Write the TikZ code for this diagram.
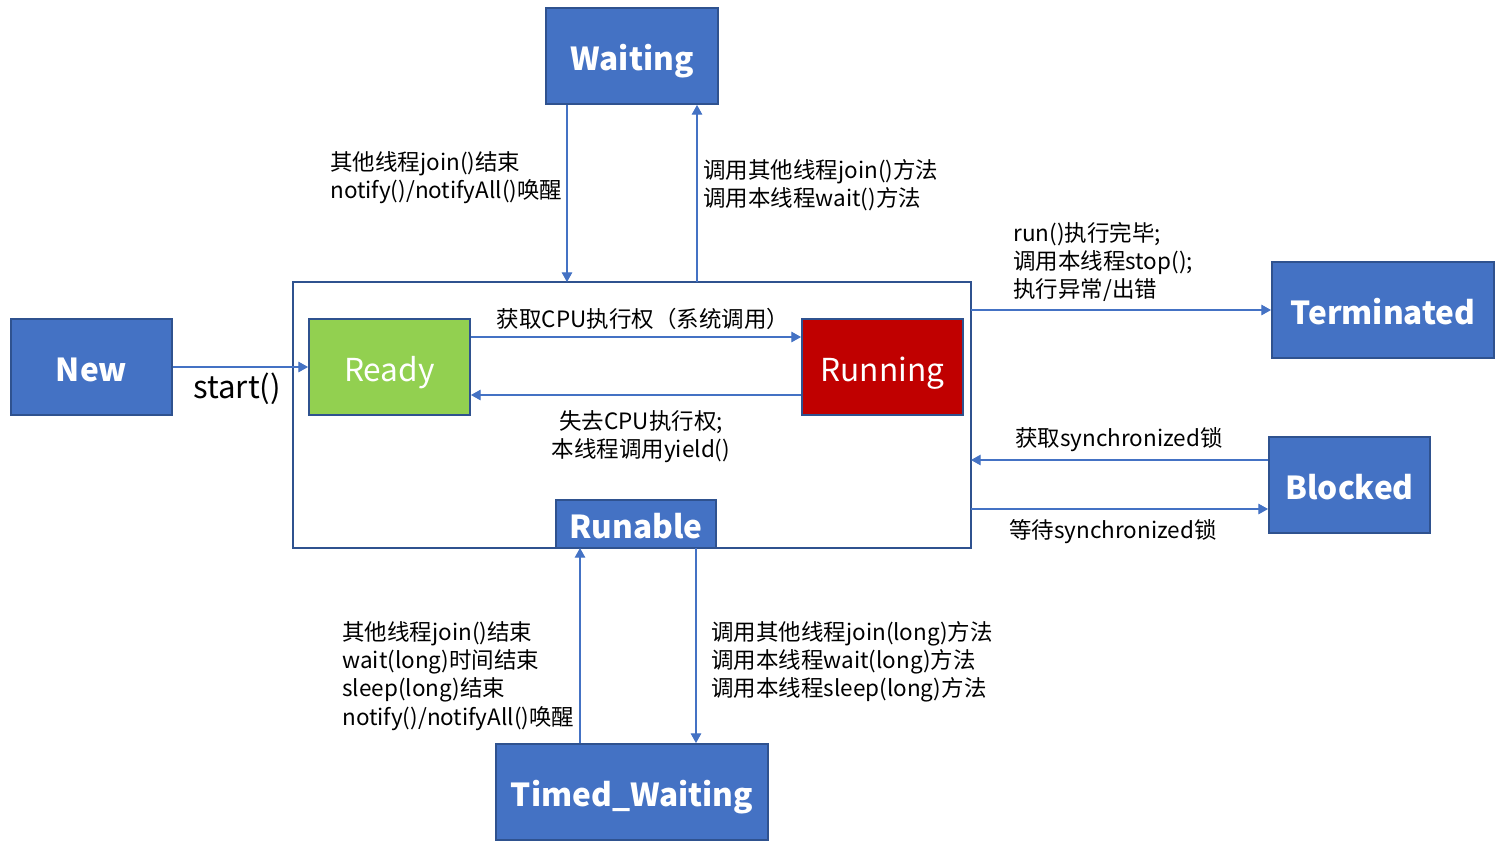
\documentclass[tikz,border=0pt]{standalone}
\usepackage{fontspec}
\setmainfont{Noto Sans CJK SC}
\usetikzlibrary{arrows.meta}
\definecolor{boxblue}{HTML}{4472C4}
\definecolor{edgeblue}{HTML}{2F528F}
\definecolor{readygreen}{HTML}{92D050}
\definecolor{runred}{HTML}{C00000}
\tikzset{
  px/.style={x=0.02cm,y=-0.02cm},
  state/.style={draw=edgeblue,line width=1.1pt,fill=boxblue,text=white,font=\fontsize{18}{20}\selectfont\bfseries,inner sep=0pt,text height=16.4pt,text depth=0pt},
  flow/.style={draw=boxblue,line width=0.6pt,-{Triangle[length=5.5pt,width=6pt]}},
  lbl/.style={font=\fontsize{12.8}{16}\selectfont,text=black,inner sep=0pt,align=left}
}
\begin{document}
\begin{tikzpicture}[px]
\useasboundingbox (0,0) rectangle (1502,850);
% outer runnable frame
\draw[draw=edgeblue,line width=1.1pt,fill=white] (293,282) rectangle (971,548);
\node[state,minimum width=160*0.02cm,minimum height=48*0.02cm] (runable) at (636,524) {Runable};
\coordinate (frameTopL) at (567,282);
\coordinate (frameTopR) at (697,282);
\coordinate (frameR1) at (971,310);
\coordinate (frameR2) at (971,460);
\coordinate (frameR3) at (971,509);
\coordinate (frameBotL) at (580,548);
\coordinate (frameBotR) at (696,548);

\node[state,minimum width=172*0.02cm,minimum height=96*0.02cm] (waiting) at (632,56) {Waiting};
\node[state,minimum width=161*0.02cm,minimum height=96*0.02cm] (new) at (91.5,367) {New};
\node[state,fill=readygreen,font=\fontsize{18}{20}\selectfont,minimum width=161*0.02cm,minimum height=96*0.02cm] (ready) at (389.5,367) {Ready};
\node[state,fill=runred,font=\fontsize{18}{20}\selectfont,minimum width=161*0.02cm,minimum height=96*0.02cm] (running) at (882.5,367) {Running};
\node[state,minimum width=222*0.02cm,minimum height=96*0.02cm] (terminated) at (1383,310) {Terminated};
\node[state,minimum width=161*0.02cm,minimum height=96*0.02cm] (blocked) at (1349.5,485) {Blocked};
\node[state,minimum width=272*0.02cm,minimum height=96*0.02cm] (timed) at (632,792) {Timed\_Waiting};

% arrows
\draw[flow] (waiting.south -| frameTopL) -- (frameTopL);
\draw[flow] (frameTopR) -- (waiting.south -| frameTopR);
\draw[flow] (new.east) -- (ready.west);
\draw[flow] (ready.east |- 0,337) -- (running.west |- 0,337);
\draw[flow] (running.west |- 0,395) -- (ready.east |- 0,395);
\draw[flow] (frameR1) -- (terminated.west |- frameR1);
\draw[flow] (blocked.west |- frameR2) -- (frameR2);
\draw[flow] (frameR3) -- (blocked.west |- frameR3);
\draw[flow] (timed.north -| frameBotL) -- (frameBotL);
\draw[flow] (frameBotR) -- (timed.north -| frameBotR);

% labels
\node[lbl,anchor=west] (l1) at (330,178) {其他线程join()结束\\notify()/notifyAll()唤醒};
\node[lbl,anchor=west] (l2) at (703,185) {调用其他线程join()方法\\调用本线程wait()方法};
\node[lbl,anchor=west,font=\fontsize{17.8}{19}\selectfont] (l3) at (193,389) {start()};
\node[lbl,anchor=center] (l4) at (643,319) {获取CPU执行权（系统调用）};
\node[lbl,anchor=center,align=center] (l5) at (641,437) {失去CPU执行权;\\本线程调用yield()};
\node[lbl,anchor=west] (l6) at (1013,262) {run()执行完毕;\\调用本线程stop();\\执行异常/出错};
\node[lbl,anchor=center] (l7) at (1119,440) {获取synchronized锁};
\node[lbl,anchor=center] (l8) at (1113,532) {等待synchronized锁};
\node[lbl,anchor=west] (l9) at (342,676) {其他线程join()结束\\wait(long)时间结束\\sleep(long)结束\\notify()/notifyAll()唤醒};
\node[lbl,anchor=west] (l10) at (711,662) {调用其他线程join(long)方法\\调用本线程wait(long)方法\\调用本线程sleep(long)方法};
\end{tikzpicture}
\end{document}
